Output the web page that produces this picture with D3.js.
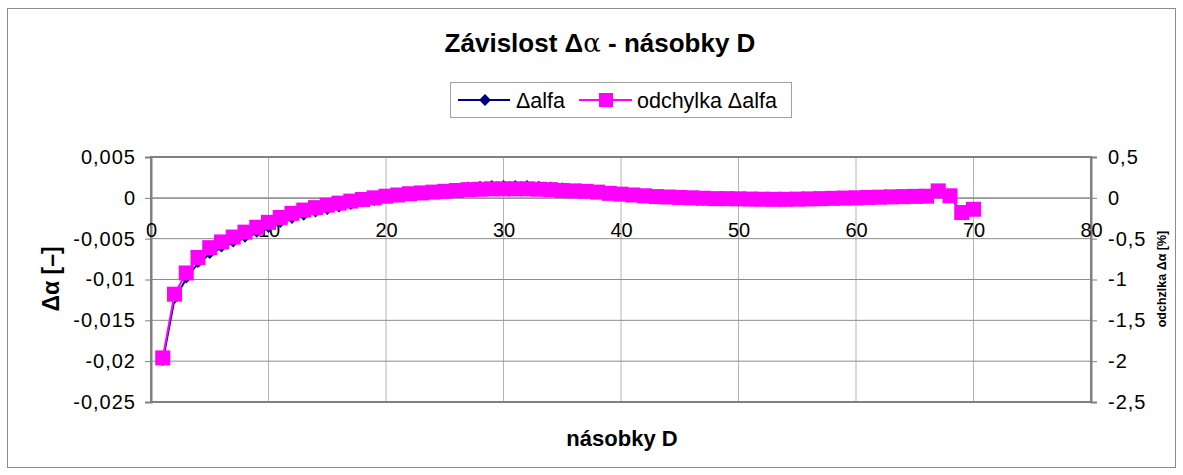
<!DOCTYPE html>
<html>
<head>
<meta charset="utf-8">
<script src="https://cdn.jsdelivr.net/npm/d3@7"></script>
<style>
  body { margin: 0; background: #fff; }
  svg { font-family: "Liberation Sans", Arial, sans-serif; }
</style>
</head>
<body>
<script>
// násobky D (x values)
var nasobky = d3.range(1, 71);

// Δalfa [-], left axis
var dAlfa = [-0.0200, -0.0124, -0.0099, -0.0080, -0.0069, -0.0061, -0.0055, -0.0049, -0.0043, -0.0037,
             -0.0031, -0.0026, -0.0022, -0.0018, -0.0015, -0.0012, -0.0009, -0.0006, -0.0004, -0.0001,
              0.0001, 0.0004, 0.0006, 0.0008, 0.0010, 0.0012, 0.0014, 0.0015, 0.0016, 0.0016,
              0.0016, 0.0016, 0.0015, 0.0014, 0.0013, 0.0011, 0.0010, 0.0008, 0.0005, 0.0003,
              0.0002, 0.0000, -0.0001, -0.0002, -0.0003, -0.0003, -0.0004, -0.0004, -0.0004, -0.0005,
             -0.0005, -0.0005, -0.0005, -0.0005, -0.0004, -0.0004, -0.0004, -0.0003, -0.0003, -0.0003,
             -0.0002, -0.0001, 0.0000, 0.0001, 0.0001, 0.0001, 0.0008, 0.0002, -0.0019, -0.0015];

// odchylka Δalfa [%], right axis
var odchylka = [-1.96, -1.18, -0.92, -0.73, -0.61, -0.54, -0.48, -0.42, -0.36, -0.30,
                -0.24, -0.19, -0.15, -0.12, -0.09, -0.065, -0.04, -0.02, 0.00, 0.02,
                 0.035, 0.05, 0.06, 0.07, 0.08, 0.09, 0.10, 0.105, 0.11, 0.11,
                 0.11, 0.11, 0.105, 0.10, 0.09, 0.085, 0.08, 0.07, 0.055, 0.045,
                 0.035, 0.025, 0.015, 0.01, 0.005, 0.0, -0.005, -0.01, -0.01, -0.012,
                -0.015, -0.017, -0.018, -0.018, -0.016, -0.013, -0.01, -0.006, -0.003, 0.0,
                 0.005, 0.008, 0.012, 0.015, 0.018, 0.02, 0.085, 0.025, -0.18, -0.14];

var xTicks = [0, 10, 20, 30, 40, 50, 60, 70, 80];
var yLeftTicks = [0.005, 0, -0.005, -0.01, -0.015, -0.02, -0.025];
var yRightTicks = [0.5, 0, -0.5, -1, -1.5, -2, -2.5];

var width = 1183, height = 475;
var plot = { left: 151, right: 1091, top: 157, bottom: 402 };

var locale = d3.formatLocale({ decimal: ",", thousands: " ", grouping: [3], currency: ["", ""], minus: "-" });
var fmt = function(v) { return locale.format("")(+v.toPrecision(6)); };

var x = d3.scaleLinear().domain([0, 80]).range([plot.left, plot.right]);
var yL = d3.scaleLinear().domain([-0.025, 0.005]).range([plot.bottom, plot.top]);
var yR = d3.scaleLinear().domain([-2.5, 0.5]).range([plot.bottom, plot.top]);

var svg = d3.select("body").append("svg")
    .attr("width", width)
    .attr("height", height);

// chart border
svg.append("rect")
    .attr("x", 7.5).attr("y", 8.5)
    .attr("width", 1168).attr("height", 459)
    .attr("fill", "#fff")
    .attr("stroke", "#8c8c8c")
    .attr("stroke-width", 1);

// gridlines
svg.append("g").selectAll("line")
    .data(xTicks.slice(1, -1))
    .enter().append("line")
      .attr("x1", function(d) { return x(d); })
      .attr("x2", function(d) { return x(d); })
      .attr("y1", plot.top).attr("y2", plot.bottom)
      .attr("stroke", "#b4b4b4").attr("stroke-width", 1);

svg.append("g").selectAll("line")
    .data(yLeftTicks.slice(1, -1))
    .enter().append("line")
      .attr("x1", plot.left).attr("x2", plot.right)
      .attr("y1", function(d) { return yL(d); })
      .attr("y2", function(d) { return yL(d); })
      .attr("stroke", "#8c8c8c").attr("stroke-width", 1);

// plot area frame
svg.append("rect")
    .attr("x", plot.left).attr("y", plot.top)
    .attr("width", plot.right - plot.left).attr("height", plot.bottom - plot.top)
    .attr("fill", "none")
    .attr("stroke", "#808080")
    .attr("stroke-width", 2);

// left axis
var leftAxis = svg.append("g")
    .attr("transform", "translate(" + plot.left + ",0)")
    .call(d3.axisLeft(yL).tickValues(yLeftTicks).tickFormat(fmt).tickSize(6).tickPadding(9));
leftAxis.select(".domain").attr("stroke", "#808080").attr("stroke-width", 2);
leftAxis.selectAll(".tick line").attr("stroke", "#808080");
leftAxis.selectAll("text").attr("font-size", 20).attr("letter-spacing", 1).attr("fill", "#000");

// right axis
var rightAxis = svg.append("g")
    .attr("transform", "translate(" + plot.right + ",0)")
    .call(d3.axisRight(yR).tickValues(yRightTicks).tickFormat(fmt).tickSize(6).tickPadding(11));
rightAxis.select(".domain").attr("stroke", "#808080").attr("stroke-width", 2);
rightAxis.selectAll(".tick line").attr("stroke", "#808080");
rightAxis.selectAll("text").attr("font-size", 20).attr("letter-spacing", 1).attr("fill", "#000");

// x axis, crossing at 0
var bottomAxis = svg.append("g")
    .attr("transform", "translate(0," + yL(0) + ")")
    .call(d3.axisBottom(x).tickValues(xTicks).tickSize(0).tickPadding(25));
bottomAxis.select(".domain").attr("stroke", "#8c8c8c").attr("stroke-width", 1);
bottomAxis.selectAll("text").attr("font-size", 20).attr("fill", "#000");

// Δalfa series
var lineL = d3.line()
    .x(function(d, i) { return x(nasobky[i]); })
    .y(function(d) { return yL(d); });
svg.append("path")
    .datum(dAlfa)
    .attr("d", lineL)
    .attr("fill", "none")
    .attr("stroke", "#000080")
    .attr("stroke-width", 2);
svg.append("g").selectAll("path")
    .data(dAlfa)
    .enter().append("path")
      .attr("d", d3.symbol(d3.symbolDiamond2, 60))
      .attr("transform", function(d, i) { return "translate(" + x(nasobky[i]) + "," + yL(d) + ")"; })
      .attr("fill", "#000080");

// odchylka Δalfa series
var lineR = d3.line()
    .x(function(d, i) { return x(nasobky[i]); })
    .y(function(d) { return yR(d); });
svg.append("path")
    .datum(odchylka)
    .attr("d", lineR)
    .attr("fill", "none")
    .attr("stroke", "#ff00ff")
    .attr("stroke-width", 2);
svg.append("g").selectAll("rect")
    .data(odchylka)
    .enter().append("rect")
      .attr("x", function(d, i) { return x(nasobky[i]) - 7.5; })
      .attr("y", function(d) { return yR(d) - 7.5; })
      .attr("width", 15).attr("height", 15)
      .attr("fill", "#ff00ff");

// title
var title = svg.append("text")
    .attr("x", 600).attr("y", 52)
    .attr("text-anchor", "middle")
    .attr("font-size", 26)
    .attr("font-weight", "bold");
title.append("tspan").text("Závislost Δ");
title.append("tspan").attr("font-weight", "normal").attr("font-family", "DejaVu Serif").text("α");
title.append("tspan").text(" - násobky D");

// axis titles
svg.append("text")
    .attr("x", 622).attr("y", 446)
    .attr("text-anchor", "middle")
    .attr("font-size", 22)
    .attr("font-weight", "bold")
    .text("násobky D");

svg.append("text")
    .attr("transform", "translate(59,279) rotate(-90)")
    .attr("text-anchor", "middle")
    .attr("font-size", 23)
    .attr("font-weight", "bold")
    .text("Δα [–]");

svg.append("text")
    .attr("transform", "translate(1166,279) rotate(-90)")
    .attr("text-anchor", "middle")
    .attr("font-size", 12.5)
    .attr("font-weight", "bold")
    .text("odchzlka Δα [%]");

// legend
var legend = svg.append("g");
legend.append("rect")
    .attr("x", 450.5).attr("y", 82.5)
    .attr("width", 341).attr("height", 35)
    .attr("fill", "#fff")
    .attr("stroke", "#a0a0a0");
legend.append("line")
    .attr("x1", 458).attr("x2", 510).attr("y1", 100).attr("y2", 100)
    .attr("stroke", "#000080").attr("stroke-width", 2);
legend.append("path")
    .attr("d", d3.symbol(d3.symbolDiamond2, 90))
    .attr("transform", "translate(485,100)")
    .attr("fill", "#000080");
legend.append("text")
    .attr("x", 516).attr("y", 108)
    .attr("font-size", 21.5)
    .text("Δalfa");
legend.append("line")
    .attr("x1", 579).attr("x2", 632).attr("y1", 100).attr("y2", 100)
    .attr("stroke", "#ff00ff").attr("stroke-width", 2);
legend.append("rect")
    .attr("x", 599).attr("y", 93)
    .attr("width", 14).attr("height", 14)
    .attr("fill", "#ff00ff");
legend.append("text")
    .attr("x", 637).attr("y", 108)
    .attr("font-size", 21.5)
    .text("odchylka Δalfa");
</script>
</body>
</html>
